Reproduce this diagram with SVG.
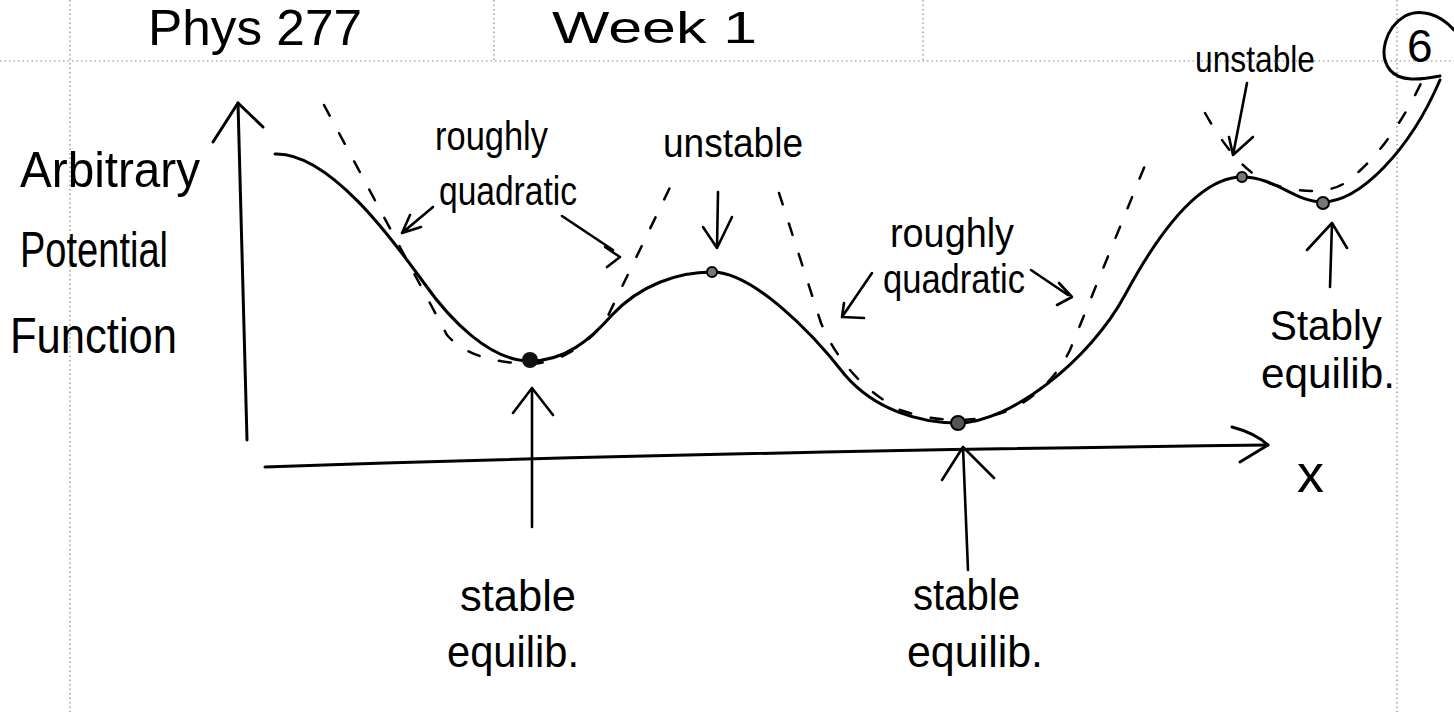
<svg xmlns="http://www.w3.org/2000/svg" width="1454" height="712" viewBox="0 0 1454 712">
<defs>
<style>
.pg{stroke:#888;stroke-width:1.2;stroke-dasharray:1.5 3;fill:none}
.ln{stroke:#000;stroke-width:3;fill:none;stroke-linecap:round;stroke-linejoin:round}
.dsh{stroke:#000;stroke-width:2.5;fill:none;stroke-dasharray:12 20;stroke-linecap:round}
.ar{stroke:#000;stroke-width:2.6;fill:none;stroke-linecap:round;stroke-linejoin:round}
text{font-family:"Liberation Sans","DejaVu Sans",sans-serif;fill:#000}
</style>
</defs>
<rect width="1454" height="712" fill="#fff"/>
<g id="page-lines">
<line class="pg" x1="0" y1="61" x2="1454" y2="61"/>
<line class="pg" x1="70" y1="0" x2="70" y2="712"/>
<line class="pg" x1="494" y1="0" x2="494" y2="61"/>
<line class="pg" x1="923" y1="0" x2="923" y2="61"/>
<line class="pg" x1="1397" y1="0" x2="1397" y2="712"/>
</g>
<g id="header">
<text x="148" y="45" font-size="50" textLength="214" lengthAdjust="spacingAndGlyphs">Phys 277</text>
<text x="552" y="43" font-size="44" textLength="205" lengthAdjust="spacingAndGlyphs">Week 1</text>
<g id="page-number">
<path class="ln" d="M1454,30 C1440,14 1420,8 1405,16 C1385,28 1378,55 1390,70 C1400,82 1420,80 1440,76"/>
<text x="1407" y="62" font-size="46">6</text>
</g>
</g>
<g id="axes">
<path class="ln" d="M247,440 Q243,270 238,103"/>
<path class="ln" d="M213,142 L238,103 L263,127"/>
<path class="ln" d="M265,467 Q700,452 1268,445"/>
<path class="ln" d="M1232,427 Q1255,433 1268,445 L1240,462"/>
</g>
<g id="potential-curve">
<path class="ln" d="M275,154 C330,152 395,243 424,283 C450,320 490,361 530,361 C565,361 590,340 612,315 C640,285 678,272 712,272 C752,272 810,330 845,375 C875,410 920,423 958,423 C1010,423 1090,360 1125,295 C1160,230 1200,177 1242,177 C1275,177 1295,202 1322,202 C1360,202 1410,150 1440,80"/>
</g>
<g id="quadratic-approximations">
<path class="dsh" d="M324,105 L447,335 Q470,362 530,364 Q572,362 605,322 L675,177"/>
<path class="dsh" d="M779,193 L821,323 Q845,380 900,410 Q958,430 1010,410 Q1050,390 1070,350 L1150,153"/>
<path class="dsh" d="M1205,113 Q1240,175 1275,185 Q1320,198 1345,183 Q1390,150 1425,75"/>
</g>
<g id="equilibrium-points">
<circle cx="530" cy="360" r="8" fill="#111"/>
<circle cx="712" cy="272" r="5" fill="#777" stroke="#000" stroke-width="2"/>
<circle cx="958" cy="423" r="7" fill="#555" stroke="#000" stroke-width="2"/>
<circle cx="1242" cy="177" r="5" fill="#777" stroke="#000" stroke-width="2"/>
<circle cx="1323" cy="203" r="6" fill="#777" stroke="#000" stroke-width="2"/>
</g>
<g id="connectors">
<path class="ar" d="M532,527 L532,388 M513,413 L532,388 L553,415"/>
<path class="ar" d="M968,570 L963,447 M942,480 L963,447 L994,478"/>
<path class="ar" d="M1330,287 L1332,223 M1307,250 L1332,223 L1347,248"/>
<path class="ar" d="M1247,83 L1233,155 M1229,137 L1233,155 L1253,137"/>
<path class="ar" d="M718,192 L717,248 M703,227 L717,248 L732,217"/>
<path class="ar" d="M433,207 L402,233 M410,215 L402,233 L421,227"/>
<path class="ar" d="M562,216 L613,250 M605,247 L620,257 L607,267"/>
<path class="ar" d="M872,273 L842,317 M844,303 L842,317 L864,318"/>
<path class="ar" d="M1031,270 L1068,295 M1059,283 L1072,297 L1057,305"/>
</g>
<g id="label-y-axis">
<text x="20" y="187" font-size="50" textLength="180" lengthAdjust="spacingAndGlyphs">Arbitrary</text>
<text x="20" y="267" font-size="50" textLength="148" lengthAdjust="spacingAndGlyphs">Potential</text>
<text x="10" y="353" font-size="50" textLength="167" lengthAdjust="spacingAndGlyphs">Function</text>
</g>
<g id="label-quadratic-1">
<text x="435" y="150" font-size="40" textLength="113" lengthAdjust="spacingAndGlyphs">roughly</text>
<text x="439" y="205" font-size="40" textLength="138" lengthAdjust="spacingAndGlyphs">quadratic</text>
</g>
<g id="label-unstable-1">
<text x="663" y="157" font-size="40" textLength="140" lengthAdjust="spacingAndGlyphs">unstable</text>
</g>
<g id="label-quadratic-2">
<text x="890" y="247" font-size="40" textLength="124" lengthAdjust="spacingAndGlyphs">roughly</text>
<text x="883" y="293" font-size="40" textLength="142" lengthAdjust="spacingAndGlyphs">quadratic</text>
</g>
<g id="label-unstable-2">
<text x="1195" y="72" font-size="36" textLength="120" lengthAdjust="spacingAndGlyphs">unstable</text>
</g>
<g id="label-stable-3">
<text x="1270" y="340" font-size="42" textLength="112" lengthAdjust="spacingAndGlyphs">Stably</text>
<text x="1261" y="388" font-size="42" textLength="134" lengthAdjust="spacingAndGlyphs">equilib.</text>
</g>
<g id="label-stable-1">
<text x="460" y="611" font-size="44" textLength="116" lengthAdjust="spacingAndGlyphs">stable</text>
<text x="447" y="667" font-size="44" textLength="132" lengthAdjust="spacingAndGlyphs">equilib.</text>
</g>
<g id="label-stable-2">
<text x="913" y="610" font-size="44" textLength="107" lengthAdjust="spacingAndGlyphs">stable</text>
<text x="907" y="667" font-size="44" textLength="136" lengthAdjust="spacingAndGlyphs">equilib.</text>
</g>
<g id="label-x">
<text x="1297" y="492" font-size="54">x</text>
</g>
</svg>
